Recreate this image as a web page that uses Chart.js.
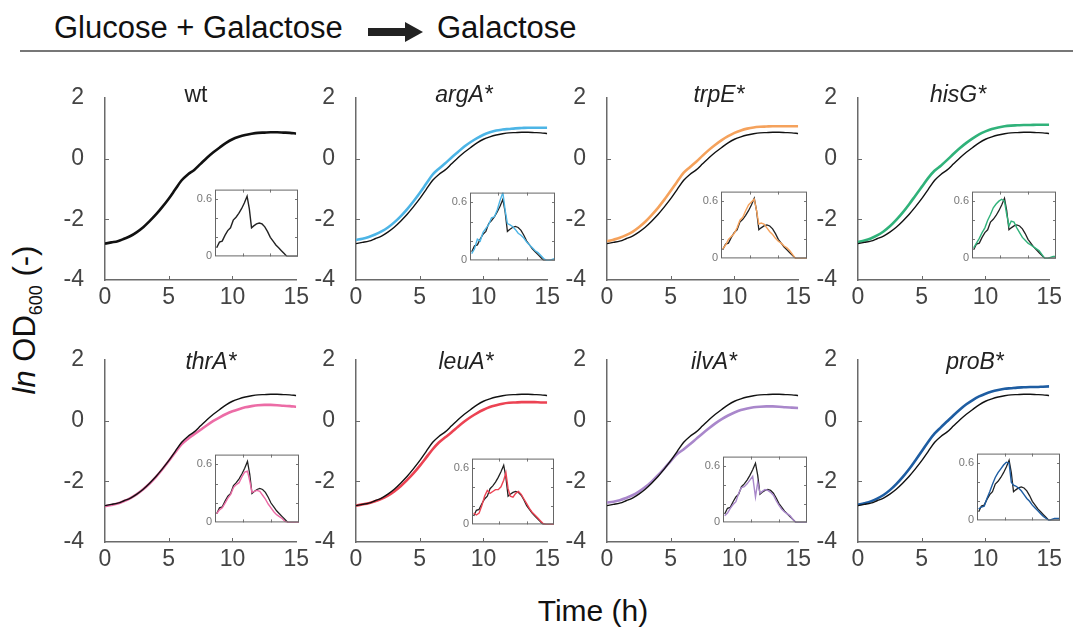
<!DOCTYPE html>
<html>
<head>
<meta charset="utf-8">
<script src="https://cdn.jsdelivr.net/npm/chart.js@4"></script>
<style>
body { margin: 0; background: #fff; font-family: "Liberation Sans", Arial, sans-serif; }
#wrap { position: relative; width: 1073px; height: 628px; overflow: hidden; }
canvas { position: absolute; }
.txt { position: absolute; white-space: nowrap; line-height: 1; color: #111; }
.ttl { position: absolute; white-space: nowrap; line-height: 1; font-size: 23px; color: #222; font-style: italic; transform: translateX(-50%); }
</style>
</head>
<body>
<div id="wrap">
  <div class="txt" style="left:54px;top:12px;font-size:31px;">Glucose + Galactose</div>
  <svg style="position:absolute;left:368px;top:21px" width="56" height="22">
    <rect x="0" y="7" width="38" height="8" fill="#222"/>
    <polygon points="37,1 55,11 37,21" fill="#222"/>
  </svg>
  <div class="txt" style="left:437px;top:12px;font-size:31px;">Galactose</div>
  <div style="position:absolute;left:20px;top:50px;width:1053px;height:2px;background:#777;"></div>
  <div class="txt" style="left:27px;top:320px;font-size:31px;transform:translate(-50%,-50%) rotate(-90deg);"><i>ln</i> OD<sub style="font-size:18px;">600</sub> (-)</div>
  <div class="txt" style="left:593px;top:596px;font-size:30px;transform:translateX(-50%);">Time (h)</div>
</div>
<script>
// time axis (h)
const time = [0, 0.5, 1, 1.5, 2, 2.5, 3, 3.5, 4, 4.5, 5, 5.5, 6, 6.5, 7, 7.5, 8, 8.5, 9, 9.5, 10, 10.5, 11, 11.5, 12, 12.5, 13, 13.5, 14, 14.5, 15];
const insetTime = [0.3, 0.8, 1.3, 1.8, 2.3, 2.8, 3.3, 3.8, 4.3, 4.8, 5.3, 5.8, 6.2, 6.6, 7.0, 7.5, 8.0, 8.5, 9.0, 9.5, 10.0, 10.5, 11.0, 11.5, 12.0, 12.5, 13.0, 13.5, 14.0, 14.5, 15.0];

const strains = ['wt', 'argA*', 'trpE*', 'hisG*', 'thrA*', 'leuA*', 'ilvA*', 'proB*'];
const yTicks = [-4, -2, 0, 2];
const xTicks = [0, 5, 10, 15];

// ln OD600
const wtOD   = [-2.80, -2.76, -2.72, -2.64, -2.55, -2.42, -2.26, -2.06, -1.84, -1.59, -1.32, -1.02, -0.72, -0.52, -0.37, -0.17, 0.03, 0.21, 0.37, 0.52, 0.64, 0.72, 0.78, 0.82, 0.85, 0.86, 0.87, 0.87, 0.86, 0.85, 0.83];
const argAOD = [-2.68, -2.64, -2.58, -2.50, -2.40, -2.27, -2.10, -1.90, -1.67, -1.41, -1.13, -0.83, -0.53, -0.33, -0.15, 0.04, 0.22, 0.40, 0.55, 0.68, 0.79, 0.87, 0.93, 0.96, 0.98, 1.00, 1.01, 1.02, 1.02, 1.02, 1.02];
const trpEOD = [-2.72, -2.67, -2.61, -2.52, -2.41, -2.26, -2.08, -1.86, -1.62, -1.35, -1.06, -0.76, -0.47, -0.28, -0.10, 0.10, 0.29, 0.46, 0.61, 0.74, 0.85, 0.93, 0.99, 1.03, 1.05, 1.06, 1.07, 1.07, 1.07, 1.07, 1.07];
const hisGOD = [-2.75, -2.70, -2.63, -2.53, -2.40, -2.23, -2.02, -1.78, -1.51, -1.22, -0.93, -0.64, -0.40, -0.23, -0.04, 0.16, 0.35, 0.52, 0.67, 0.80, 0.90, 0.98, 1.03, 1.07, 1.09, 1.10, 1.11, 1.11, 1.12, 1.12, 1.12];
const thrAOD = [-2.82, -2.78, -2.73, -2.65, -2.55, -2.42, -2.26, -2.07, -1.85, -1.60, -1.33, -1.05, -0.78, -0.60, -0.45, -0.30, -0.15, -0.01, 0.11, 0.22, 0.31, 0.38, 0.44, 0.48, 0.51, 0.52, 0.52, 0.51, 0.49, 0.48, 0.46];
const leuAOD = [-2.80, -2.76, -2.72, -2.66, -2.58, -2.47, -2.33, -2.16, -1.96, -1.74, -1.49, -1.22, -0.95, -0.72, -0.55, -0.38, -0.20, -0.03, 0.12, 0.25, 0.36, 0.45, 0.51, 0.56, 0.59, 0.60, 0.61, 0.61, 0.61, 0.60, 0.60];
const ilvAOD = [-2.70, -2.67, -2.62, -2.55, -2.46, -2.34, -2.19, -2.01, -1.80, -1.57, -1.33, -1.10, -0.95, -0.78, -0.60, -0.42, -0.25, -0.09, 0.05, 0.17, 0.27, 0.35, 0.40, 0.44, 0.46, 0.47, 0.47, 0.46, 0.44, 0.43, 0.42];
const proBOD = [-2.77, -2.72, -2.66, -2.57, -2.45, -2.29, -2.09, -1.86, -1.60, -1.31, -1.01, -0.70, -0.43, -0.22, -0.02, 0.18, 0.37, 0.54, 0.68, 0.80, 0.89, 0.96, 1.01, 1.05, 1.07, 1.09, 1.10, 1.11, 1.11, 1.12, 1.13];

// growth rate (inset)
const wtRate   = [0.09, 0.15, 0.16, 0.22, 0.27, 0.30, 0.38, 0.41, 0.45, 0.50, 0.56, 0.63, 0.50, 0.30, 0.32, 0.34, 0.35, 0.34, 0.31, 0.26, 0.20, 0.16, 0.12, 0.09, 0.06, 0.03, 0, 0, 0, 0, 0];
const argARate = [0.07, 0.12, 0.22, 0.20, 0.29, 0.33, 0.37, 0.44, 0.45, 0.52, 0.62, 0.70, 0.52, 0.38, 0.37, 0.35, 0.32, 0.28, 0.26, 0.23, 0.19, 0.16, 0.13, 0.10, 0.08, 0.05, 0.02, 0, 0, 0.01, 0.02];
const trpERate = [0.10, 0.14, 0.20, 0.23, 0.26, 0.32, 0.40, 0.43, 0.50, 0.56, 0.59, 0.62, 0.50, 0.36, 0.37, 0.36, 0.32, 0.28, 0.25, 0.21, 0.18, 0.16, 0.13, 0.11, 0.08, 0.04, 0, 0, 0, 0, 0];
const hisGRate = [0.11, 0.16, 0.21, 0.27, 0.32, 0.40, 0.46, 0.53, 0.57, 0.60, 0.62, 0.60, 0.46, 0.34, 0.39, 0.38, 0.32, 0.27, 0.22, 0.19, 0.16, 0.14, 0.12, 0.10, 0.08, 0.04, 0, 0, 0.01, 0.02, 0.02];
const thrARate = [0.09, 0.13, 0.15, 0.20, 0.25, 0.29, 0.36, 0.39, 0.41, 0.47, 0.52, 0.53, 0.43, 0.31, 0.32, 0.33, 0.32, 0.28, 0.24, 0.19, 0.15, 0.11, 0.08, 0.06, 0.04, 0.01, 0, 0, 0, 0, 0];
const leuARate = [0.12, 0.10, 0.12, 0.20, 0.30, 0.36, 0.33, 0.35, 0.37, 0.37, 0.40, 0.47, 0.55, 0.38, 0.30, 0.29, 0.33, 0.35, 0.32, 0.27, 0.22, 0.17, 0.13, 0.10, 0.07, 0.04, 0.01, 0, 0, 0, 0];
const ilvARate = [0.07, 0.10, 0.15, 0.19, 0.22, 0.31, 0.37, 0.38, 0.41, 0.45, 0.49, 0.27, 0.43, 0.31, 0.33, 0.35, 0.34, 0.32, 0.29, 0.23, 0.18, 0.14, 0.11, 0.09, 0.07, 0.03, 0, 0, 0, 0, 0];
const proBRate = [0.12, 0.14, 0.15, 0.23, 0.30, 0.38, 0.45, 0.50, 0.54, 0.58, 0.61, 0.60, 0.40, 0.37, 0.36, 0.34, 0.31, 0.27, 0.23, 0.20, 0.16, 0.13, 0.10, 0.07, 0.04, 0.02, 0, 0.01, 0.02, 0.02, 0.02];

const odSeries = [wtOD, argAOD, trpEOD, hisGOD, thrAOD, leuAOD, ilvAOD, proBOD];
const rateSeries = [wtRate, argARate, trpERate, hisGRate, thrARate, leuARate, ilvARate, proBRate];
const colors = ['#111111', '#4DB5E6', '#F5A25C', '#30B27A', '#EC6CA6', '#EC4353', '#A987CB', '#1E5DA2'];

// layout (pixels)
const colX = [105, 356, 607, 858];
const rowY = [98, 360];
const plotW = 192, plotH = 182;
const titleX = [196, 464, 719, 958, 211, 466, 714, 975];
const titleBase = [103, 370];
const insetBox = [
    [215, 183, 298, 263], [470, 186, 555, 267], [721, 185, 807, 265], [972, 185, 1056, 265],
    [215, 448, 299, 529], [472, 452, 554, 531], [723, 450, 807, 529], [977, 447, 1060, 527]
];

const wrap = document.getElementById('wrap');

// MATLAB style inward ticks (and box for insets)
const inTicks = {
    id: 'inTicks',
    afterDraw(chart, args, opts) {
        const {ctx, chartArea: a, scales: {x, y}} = chart;
        ctx.save();
        ctx.strokeStyle = opts.color;
        ctx.lineWidth = 1;
        ctx.beginPath();
        x.ticks.forEach(t => {
            const px = Math.round(x.getPixelForValue(t.value)) + 0.5;
            if (px <= a.left + 1 || px >= a.right - 1) return;
            ctx.moveTo(px, a.bottom); ctx.lineTo(px, a.bottom - opts.len);
            if (opts.box) { ctx.moveTo(px, a.top); ctx.lineTo(px, a.top + opts.len); }
        });
        y.ticks.forEach(t => {
            const py = Math.round(y.getPixelForValue(t.value)) + 0.5;
            if (py <= a.top + 1 || py >= a.bottom - 1) return;
            ctx.moveTo(a.left, py); ctx.lineTo(a.left + opts.len, py);
            if (opts.box) { ctx.moveTo(a.right, py); ctx.lineTo(a.right - opts.len, py); }
        });
        ctx.stroke();
        if (opts.box) {
            ctx.strokeStyle = opts.boxColor;
            ctx.strokeRect(a.left + 0.5, a.top + 0.5, a.right - a.left - 1, a.bottom - a.top - 1);
        }
        ctx.restore();
    }
};

function pts(xs, ys) {
    return xs.map((v, i) => ({x: v, y: ys[i]}));
}

function makeCanvas(left, top, w, h) {
    const cv = document.createElement('canvas');
    cv.width = w; cv.height = h;
    cv.style.left = left + 'px';
    cv.style.top = top + 'px';
    cv.style.width = w + 'px';
    cv.style.height = h + 'px';
    wrap.appendChild(cv);
    return cv;
}

function makeMain(i) {
    const ax = colX[i % 4], ay = rowY[Math.floor(i / 4)];
    const padL = 60, padT = 40, padR = 16, padB = 40;
    const cv = makeCanvas(ax - padL, ay - padT, padL + plotW + padR, padT + plotH + padB);
    const datasets = [];
    if (i === 0) {
        datasets.push({data: pts(time, wtOD), borderColor: '#111', borderWidth: 2.6});
    } else {
        datasets.push({data: pts(time, wtOD), borderColor: '#111', borderWidth: 1.4, order: 0});
        datasets.push({data: pts(time, odSeries[i]), borderColor: colors[i], borderWidth: 2.6, order: 1});
    }
    new Chart(cv, {
        type: 'line',
        data: {datasets: datasets},
        options: {
            responsive: false,
            animation: false,
            layout: {padding: {top: padT, right: padR, left: 0, bottom: 0}},
            elements: {point: {radius: 0}, line: {cubicInterpolationMode: 'monotone'}},
            scales: {
                x: {
                    type: 'linear', min: 0, max: 15,
                    afterBuildTicks: s => { s.ticks = xTicks.map(v => ({value: v})); },
                    grid: {display: false, drawTicks: false},
                    border: {color: '#6a6a6a', width: 1.5},
                    ticks: {color: '#444', font: {family: 'Liberation Sans', size: 23}, padding: 4},
                    afterFit: s => { s.height = padB; }
                },
                y: {
                    min: -4, max: 2,
                    afterBuildTicks: s => { s.ticks = yTicks.map(v => ({value: v})); },
                    grid: {display: false, drawTicks: false},
                    border: {color: '#6a6a6a', width: 1.5},
                    ticks: {color: '#444', font: {family: 'Liberation Sans', size: 23}, padding: 21},
                    afterFit: s => { s.width = padL; }
                }
            },
            plugins: {
                legend: {display: false},
                tooltip: {enabled: false},
                inTicks: {len: 4, box: false, color: '#6a6a6a'}
            }
        },
        plugins: [inTicks]
    });

    const t = document.createElement('div');
    t.className = 'ttl';
    t.textContent = strains[i];
    if (i === 0) t.style.fontStyle = 'normal';
    t.style.left = titleX[i] + 'px';
    t.style.top = (titleBase[Math.floor(i / 4)] - 0.85 * 23) + 'px';
    wrap.appendChild(t);
}

function makeInset(i) {
    const [l, tp, r, b] = insetBox[i];
    const padL = 24, padT = 3, padR = 3, padB = 3;
    const cv = makeCanvas(l - padL, tp - padT, padL + (r - l) + padR, padT + (b - tp) + padB);
    const datasets = [];
    if (i === 0) {
        datasets.push({data: pts(insetTime, wtRate), borderColor: '#222', borderWidth: 1.4});
    } else {
        datasets.push({data: pts(insetTime, rateSeries[i]), borderColor: colors[i], borderWidth: 1.4, order: 0});
        datasets.push({data: pts(insetTime, wtRate), borderColor: '#222', borderWidth: 1.3, order: 1});
    }
    new Chart(cv, {
        type: 'line',
        data: {datasets: datasets},
        options: {
            responsive: false,
            animation: false,
            layout: {padding: {top: padT, right: padR, left: 0, bottom: padB}},
            elements: {point: {radius: 0}, line: {tension: 0}},
            scales: {
                x: {
                    type: 'linear', min: 0, max: 15,
                    afterBuildTicks: s => { s.ticks = [5, 10].map(v => ({value: v})); },
                    grid: {display: false, drawTicks: false},
                    border: {display: false},
                    ticks: {display: false},
                    afterFit: s => { s.height = 0; }
                },
                y: {
                    min: 0, max: 0.7,
                    afterBuildTicks: s => { s.ticks = [0, 0.2, 0.4, 0.6].map(v => ({value: v})); },
                    grid: {display: false, drawTicks: false},
                    border: {display: false},
                    ticks: {
                        color: '#777', font: {family: 'Liberation Sans', size: 11}, padding: 3,
                        callback: v => (v === 0 ? '0' : (Math.abs(v - 0.6) < 1e-6 ? '0.6' : ''))
                    },
                    afterFit: s => { s.width = padL; }
                }
            },
            plugins: {
                legend: {display: false},
                tooltip: {enabled: false},
                inTicks: {len: 3, box: true, color: '#777', boxColor: '#666'}
            }
        },
        plugins: [inTicks]
    });
}

for (let i = 0; i < 8; i++) {
    makeMain(i);
    makeInset(i);
}
</script>
</body>
</html>
